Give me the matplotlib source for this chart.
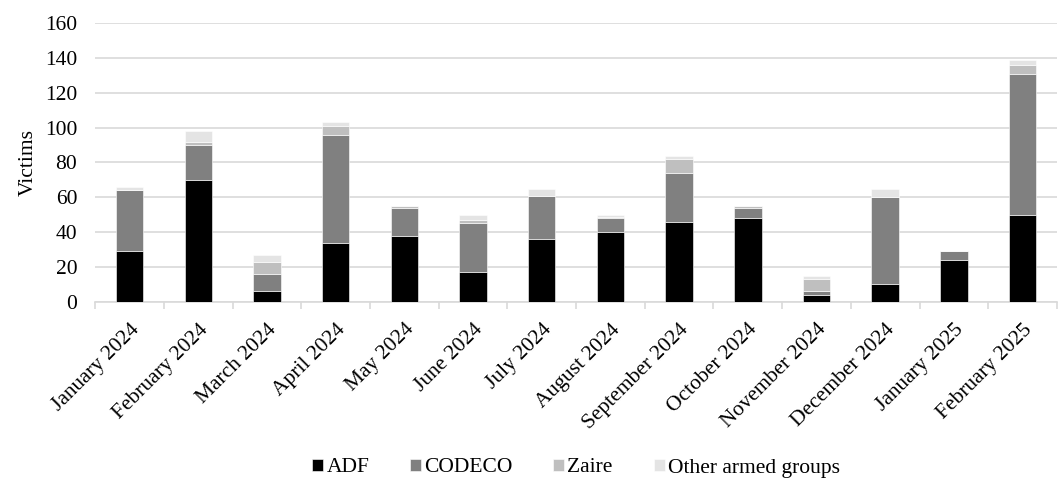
import matplotlib.pyplot as plt
import numpy as np

months = ['January 2024', 'February 2024', 'March 2024', 'April 2024', 'May 2024',
          'June 2024', 'July 2024', 'August 2024', 'September 2024', 'October 2024',
          'November 2024', 'December 2024', 'January 2025', 'February 2025']
adf = [29, 70, 6, 34, 38, 17, 36, 40, 46, 48, 4, 10, 24, 50]
codeco = [35, 20, 10, 62, 16, 28, 25, 8, 28, 6, 2, 50, 5, 81]
zaire = [0, 2, 7, 5, 1, 2, 0, 1, 8, 1, 7, 0, 0, 5]
other = [2, 6, 4, 2, 0, 3, 4, 1, 2, 0, 2, 5, 0, 3]

series = [('ADF', adf, '#000000'), ('CODECO', codeco, '#808080'),
          ('Zaire', zaire, '#bfbfbf'), ('Other armed groups', other, '#e4e4e4')]

plt.rcParams['font.family'] = ['Liberation Serif', 'DejaVu Serif']
fs = 15.5

fig = plt.figure(figsize=(10.59, 4.8), dpi=100)
ax = fig.add_axes([0.09, 0.371, 0.908, 0.581])

x = np.arange(len(months))
bottom = np.zeros(len(months))
for name, vals, col in series:
    ax.bar(x, vals, 0.4, bottom=bottom, color=col, label=name,
           edgecolor='white', linewidth=0.4, zorder=3)
    bottom += np.array(vals)

ax.set_ylim(0, 160)
ax.set_yticks(range(0, 161, 20))
ax.set_xlim(-0.5, len(months) - 0.5)
ax.yaxis.grid(True, color='#d9d9d9', linewidth=1.2, zorder=0)
ax.set_ylabel('Victims', fontsize=fs, labelpad=5)

for s in ['top', 'right', 'left']:
    ax.spines[s].set_visible(False)
ax.spines['bottom'].set_color('#d9d9d9')
ax.spines['bottom'].set_linewidth(1.2)

ax.set_xticks(x)
ax.set_xticklabels(months, rotation=45, ha='right', rotation_mode='anchor', fontsize=fs)
ax.tick_params(axis='x', length=0, pad=13)
ax.set_xticks(np.arange(-0.5, len(months), 1), minor=True)
ax.tick_params(axis='x', which='minor', length=5, color='#d9d9d9', width=1.2)
ax.tick_params(axis='y', length=0, labelsize=fs, pad=13)

# legend is centred under the plot area, not the figure
ax.legend(loc='center', bbox_to_anchor=(0.544, 0.025), bbox_transform=fig.transFigure,
          ncol=4, frameon=False, fontsize=fs, handlelength=0.5, handleheight=0.5,
          handletextpad=0.15, columnspacing=1.9)

fig.savefig('out.png', dpi=100)
